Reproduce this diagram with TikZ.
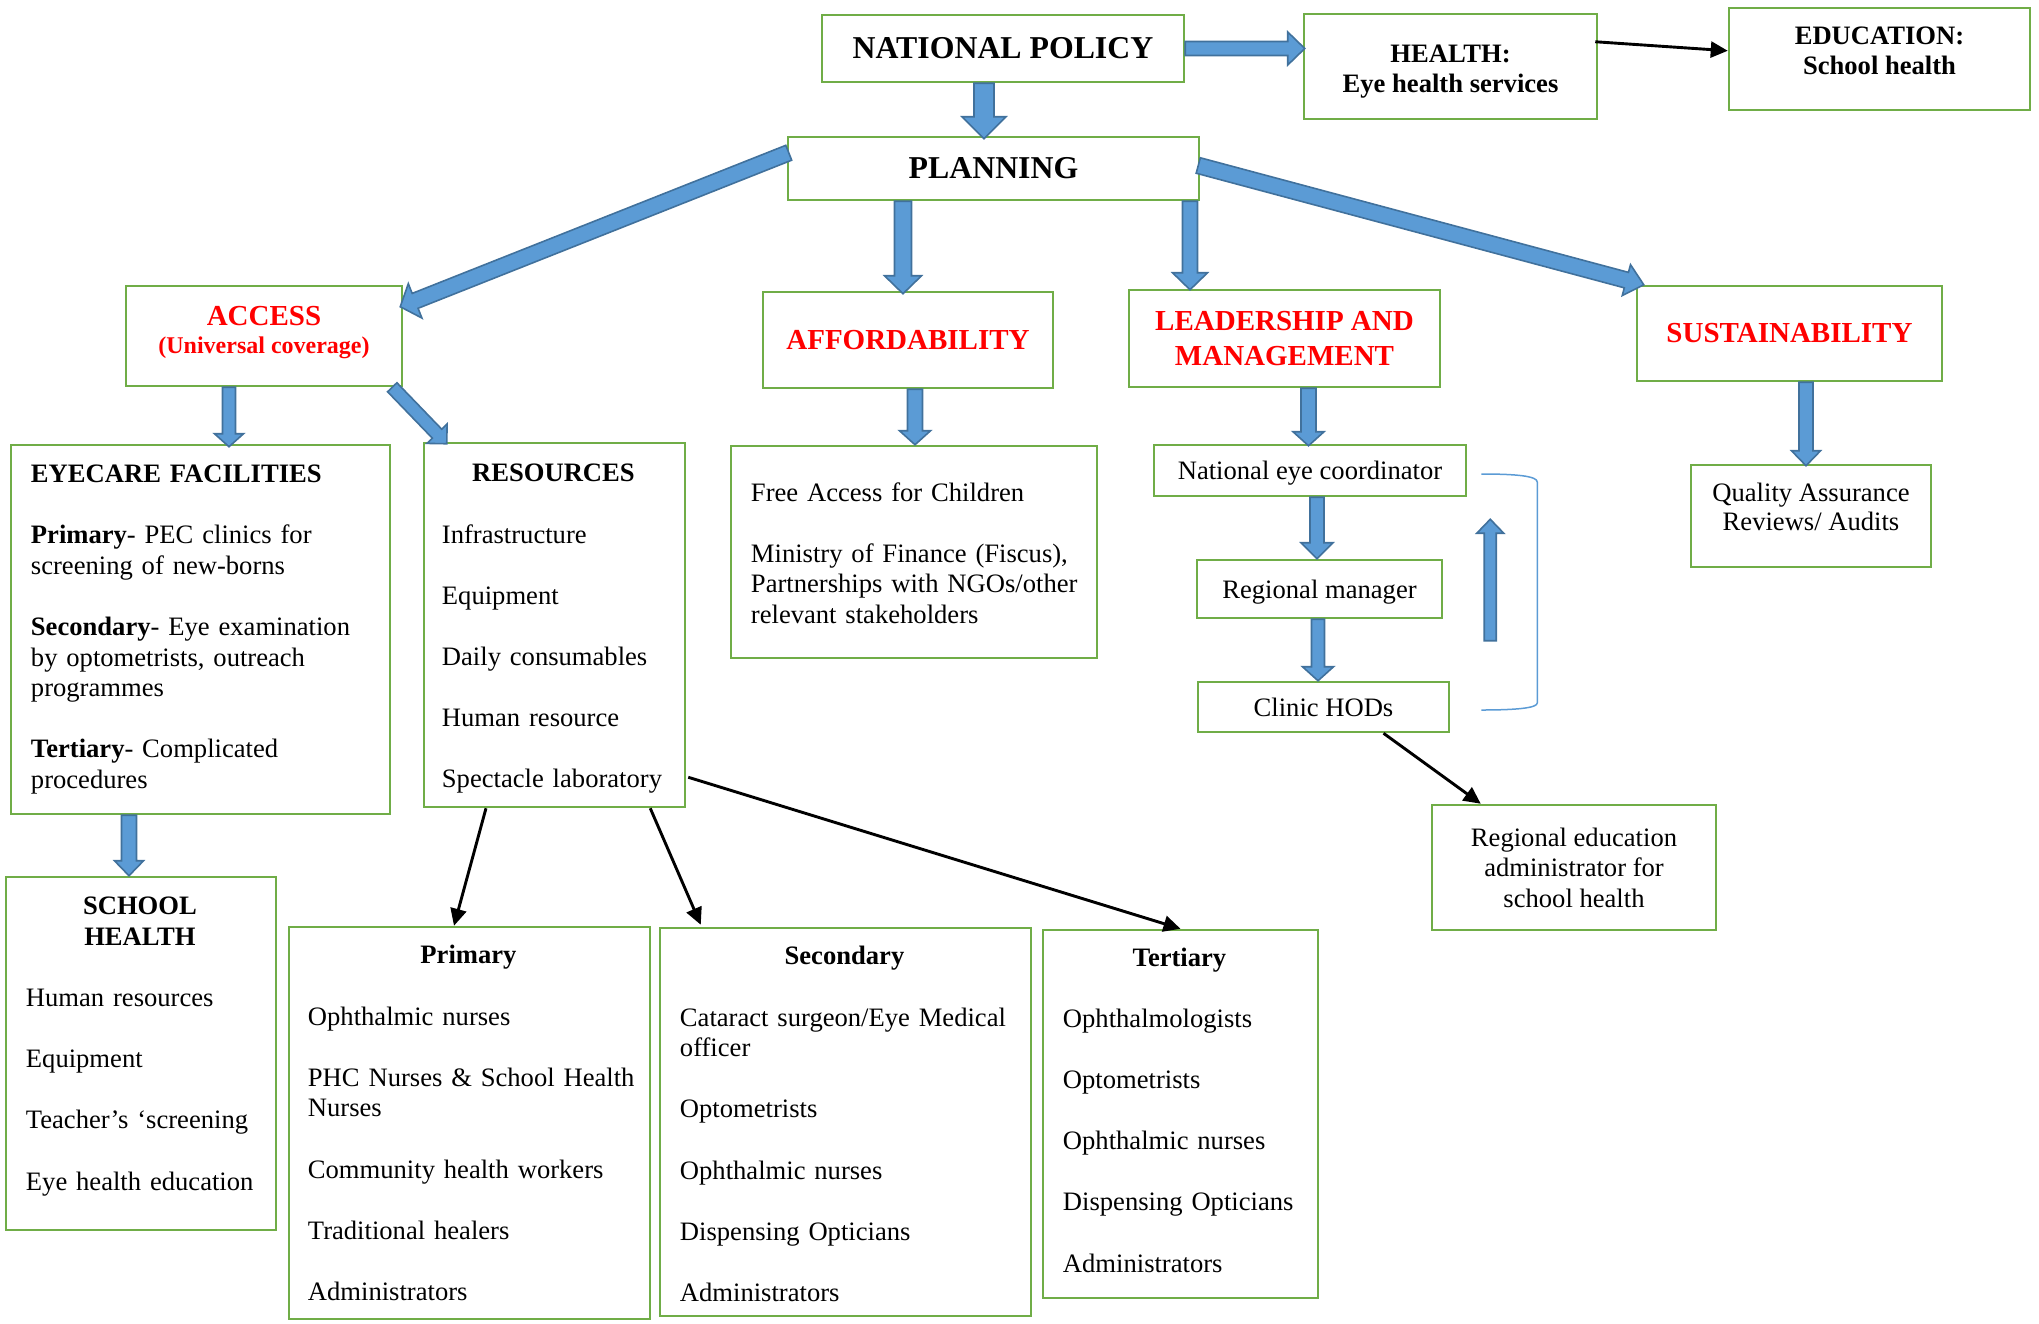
\documentclass[tikz,border=0pt]{standalone}
\usepackage{fontspec}
\setmainfont{Liberation Serif}
\usetikzlibrary{calc,arrows.meta}
\definecolor{boxgreen}{HTML}{70AD47}
\definecolor{arrowblue}{HTML}{5B9BD5}
\definecolor{arrowedge}{HTML}{41719C}
\newcommand\gapp{\\[30.6pt]}
\newcommand\barrow[5]{%
  \filldraw[blockarrow] ($(#1)!#3!90:(#2)$) -- ($(#2)!#5!(#1)!#3!90:(#2)$) -- ($(#2)!#5!(#1)!#4!90:(#2)$) -- (#2) -- ($(#2)!#5!(#1)!#4!-90:(#2)$) -- ($(#2)!#5!(#1)!#3!-90:(#2)$) -- ($(#1)!#3!-90:(#2)$) -- cycle;}
\tikzset{
  gbox/.style={draw=boxgreen, line width=2.5pt, rectangle, inner sep=0pt, align=center},
  bodyfont/.style={font=\fontsize{26.6pt}{30.6pt}\selectfont},
  boldfont/.style={font=\fontsize{26.6pt}{30pt}\selectfont\bfseries},
  bigfont/.style={font=\fontsize{31.8pt}{36pt}\selectfont\bfseries},
  redtitle/.style={font=\fontsize{29pt}{35pt}\selectfont\bfseries, text=red},
  bodytext/.style={font=\fontsize{26.6pt}{30.6pt}\selectfont, align=left, inner sep=0pt, anchor=west},
  blockarrow/.style={fill=arrowblue, draw=arrowedge, line width=1.6pt, line join=miter},
  blk/.style={draw=black, line width=2.9pt, -{Triangle[length=17pt,width=16pt]}},
  bracketline/.style={draw=arrowblue, line width=1.5pt}
}
\begin{document}
\begin{tikzpicture}[x=1pt,y=-1pt]
\useasboundingbox (0,0) rectangle (2039,1323);

% top row
\node[gbox, bigfont, minimum width=362pt, minimum height=67pt] (np) at (1003,48.5) {NATIONAL POLICY};
\node[gbox, minimum width=293pt, minimum height=105pt] (health) at (1450.5,66.5) {};
\node[boldfont, align=center, inner sep=0pt] (healtht) at ($(health.center)+(0,5)$) {HEALTH:\\Eye health services};
\node[gbox, minimum width=301pt, minimum height=102pt] (edu) at (1879.5,59) {};
\node[boldfont, align=center, inner sep=0pt] (edut) at ($(edu.center)+(0,-8)$) {EDUCATION:\\School health};
\node[gbox, bigfont, minimum width=411pt, minimum height=63pt] (planning) at (993.5,168.5) {PLANNING};

% pillars
\node[gbox, minimum width=276pt, minimum height=100pt] (access) at (264,336) {};
\node[text=red, font=\fontsize{29pt}{28pt}\selectfont\bfseries, align=center, inner sep=0pt] (accesst) at ($(access.center)+(0,-3)$) {ACCESS\\{\fontsize{24pt}{28pt}\selectfont(Universal coverage)}};
\node[gbox, redtitle, minimum width=290pt, minimum height=96pt] (afford) at (908,340) {AFFORDABILITY};
\node[gbox, redtitle, minimum width=311pt, minimum height=97pt] (lead) at (1284.5,338.5) {LEADERSHIP AND\\MANAGEMENT};
\node[gbox, redtitle, minimum width=305pt, minimum height=95pt] (sustain) at (1789.5,333.5) {SUSTAINABILITY};

% eyecare facilities
\node[gbox, minimum width=379pt, minimum height=369pt] (eyecare) at (200.5,629.5) {};
\node[bodytext, text width=379pt] (eyecaret) at ($(eyecare.west)+(21,0)$) {\textbf{EYECARE FACILITIES}\gapp
\textbf{Primary}- PEC clinics for\\ screening of new-borns\gapp
\textbf{Secondary}- Eye examination\\ by optometrists, outreach\\ programmes\gapp
\textbf{Tertiary}- Complicated\\ procedures};

% resources
\node[gbox, minimum width=261pt, minimum height=364pt] (resources) at (554.5,625) {};
\node[bodytext, text width=261pt] (resourcest) at ($(resources.west)+(19,4)$) {\makebox[223pt]{\textbf{RESOURCES}}\gapp
Infrastructure\gapp Equipment\gapp Daily consumables\gapp Human resource\gapp Spectacle laboratory};

% affordability details
\node[gbox, minimum width=366pt, minimum height=212pt] (free) at (914,552) {};
\node[bodytext, text width=366pt] (freet) at ($(free.west)+(21,1)$) {Free Access for Children\gapp
Ministry of Finance (Fiscus),\\ Partnerships with NGOs/other\\ relevant stakeholders};

% leadership chain
\node[gbox, bodyfont, text depth=0pt, minimum width=312pt, minimum height=51pt] (nec) at (1310,470.5) {National eye coordinator};
\node[gbox, bodyfont, text depth=0pt, minimum width=245pt, minimum height=58pt] (rm) at (1319.5,589) {Regional manager};
\node[gbox, bodyfont, minimum width=251pt, minimum height=50pt] (clinic) at (1323.5,707) {Clinic HODs};
\node[gbox, font=\fontsize{26.6pt}{30.5pt}\selectfont, minimum width=284pt, minimum height=125pt] (rea) at (1574,867.5) {Regional education\\administrator for\\school health};

% sustainability
\node[gbox, minimum width=240pt, minimum height=102pt] (qa) at (1811,516) {};
\node[font=\fontsize{26.6pt}{29.5pt}\selectfont, align=center, inner sep=0pt] (qat) at ($(qa.center)+(0,-9)$) {Quality Assurance\\Reviews/ Audits};

% school health
\node[gbox, minimum width=270pt, minimum height=353pt] (school) at (141,1053.5) {};
\node[bodytext, text width=270pt] (schoolt) at ($(school.west)+(21,-7)$) {\makebox[228pt]{\textbf{SCHOOL}}\\\makebox[228pt]{\textbf{HEALTH}}\gapp
Human resources\gapp Equipment\gapp Teacher’s ‘screening\gapp Eye health education};

% human resource levels
\node[gbox, minimum width=361pt, minimum height=392pt] (primary) at (469.5,1123) {};
\node[bodytext, text width=361pt] (primaryt) at ($(primary.west)+(20,0)$) {\makebox[321pt]{\textbf{Primary}}\gapp
Ophthalmic nurses\gapp PHC Nurses \& School Health\\ Nurses\gapp Community health workers\gapp Traditional healers\gapp Administrators};

\node[gbox, minimum width=371pt, minimum height=388pt] (secondary) at (845.5,1122) {};
\node[bodytext, text width=371pt] (secondaryt) at ($(secondary.west)+(21,2)$) {\makebox[329pt]{\textbf{Secondary}}\gapp
Cataract surgeon/Eye Medical\\ officer\gapp Optometrists\gapp Ophthalmic nurses\gapp Dispensing Opticians\gapp Administrators};

\node[gbox, minimum width=275pt, minimum height=368pt] (tertiary) at (1180.5,1114) {};
\node[bodytext, text width=275pt] (tertiaryt) at ($(tertiary.west)+(21,-4)$) {\makebox[233pt]{\textbf{Tertiary}}\gapp
Ophthalmologists\gapp Optometrists\gapp Ophthalmic nurses\gapp Dispensing Opticians\gapp Administrators};

% block arrow end points
\coordinate (aS) at (np.east);
\coordinate (aE) at ($(aS -| health.west)+(2,0)$);
\coordinate (bS) at ($(np.south)+(-19,0)$);
\coordinate (bE) at ($(bS |- planning.north)+(0,3)$);
\coordinate (cS) at ($(planning.north west)+(2,17)$);
\coordinate (cE) at ($(access.north east)+(-3,22)$);
\coordinate (dS) at ($(planning.south)+(-90.5,0)$);
\coordinate (dE) at ($(dS |- afford.north)+(0,3)$);
\coordinate (eS) at ($(planning.south)+(196.5,0)$);
\coordinate (eE) at ($(eS |- lead.north)+(0,1)$);
\coordinate (fS) at ($(planning.east)+(-2,-3)$);
\coordinate (fE) at ($(sustain.north west)+(8,0)$);
\coordinate (gS) at ($(access.south)+(-35,0)$);
\coordinate (gE) at ($(gS |- eyecare.north)+(0,3)$);
\coordinate (hS) at ($(access.south east)+(-11,0)$);
\coordinate (hE) at ($(resources.north west)+(24,2)$);
\coordinate (iS) at ($(afford.south)+(7,0)$);
\coordinate (iE) at (iS |- free.north);
\coordinate (jS) at ($(lead.south)+(24,0)$);
\coordinate (jE) at ($(jS |- nec.north)+(0,2)$);
\coordinate (kS) at ($(nec.south)+(7,0)$);
\coordinate (kE) at (kS |- rm.north);
\coordinate (lS) at ($(rm.south)+(-1.5,0)$);
\coordinate (lE) at (lS |- clinic.north);
\coordinate (mS) at ($(sustain.south)+(16.5,0)$);
\coordinate (mE) at ($(mS |- qa.north)+(0,2)$);
\coordinate (nS) at ($(eyecare.south)+(-71.5,0)$);
\coordinate (nE) at (nS |- school.north);
\coordinate (uS) at ($(clinic.north east)+(40,-40)$);
\coordinate (uE) at ($(nec.south east)+(23,22)$);

\barrow{aS}{aE}{7pt}{16.5pt}{17pt}
\barrow{bS}{bE}{10pt}{22pt}{22pt}
\barrow{cS}{cE}{8pt}{18.5pt}{16pt}
\barrow{dS}{dE}{8.5pt}{18.5pt}{18pt}
\barrow{eS}{eE}{7.5pt}{17.5pt}{17pt}
\barrow{fS}{fE}{8pt}{16pt}{18pt}
\barrow{gS}{gE}{6.5pt}{14.5pt}{13pt}
\barrow{hS}{hE}{6.5pt}{14pt}{14pt}
\barrow{iS}{iE}{7.5pt}{15.5pt}{14pt}
\barrow{jS}{jE}{7.5pt}{15.5pt}{14pt}
\barrow{kS}{kE}{7pt}{16pt}{16pt}
\barrow{lS}{lE}{6.5pt}{15.5pt}{14pt}
\barrow{mS}{mE}{7pt}{14.5pt}{15pt}
\barrow{nS}{nE}{7.5pt}{14.5pt}{15pt}
\barrow{uS}{uE}{6pt}{13.5pt}{14pt}

% bracket
\draw[bracketline] ($(nec.east)+(14,3.5)$) .. controls ($(nec.east)+(49,3.5)$) and ($(nec.east)+(70,5.5)$) .. ($(nec.east)+(70,11.5)$)
  -- ($(clinic.east)+(87,-4)$) .. controls ($(clinic.east)+(87,1)$) and ($(clinic.east)+(66,3)$) .. ($(clinic.east)+(31,3)$);

% black arrows
\draw[blk] ($(health.north east)+(-3,29)$) -- ($(edu.north west)+(0,44)$);
\draw[blk] ($(resources.south)+(-68.5,0)$) -- ($(primary.north)+(-15.5,0)$);
\draw[blk] ($(resources.south east)+(-36,0)$) -- ($(secondary.north west)+(42,-2)$);
\draw[blk] ($(resources.south east)+(2,-31)$) -- (tertiary.north);
\draw[blk] ($(clinic.south)+(60,0)$) -- ($(rea.north west)+(50,0)$);
\end{tikzpicture}
\end{document}
